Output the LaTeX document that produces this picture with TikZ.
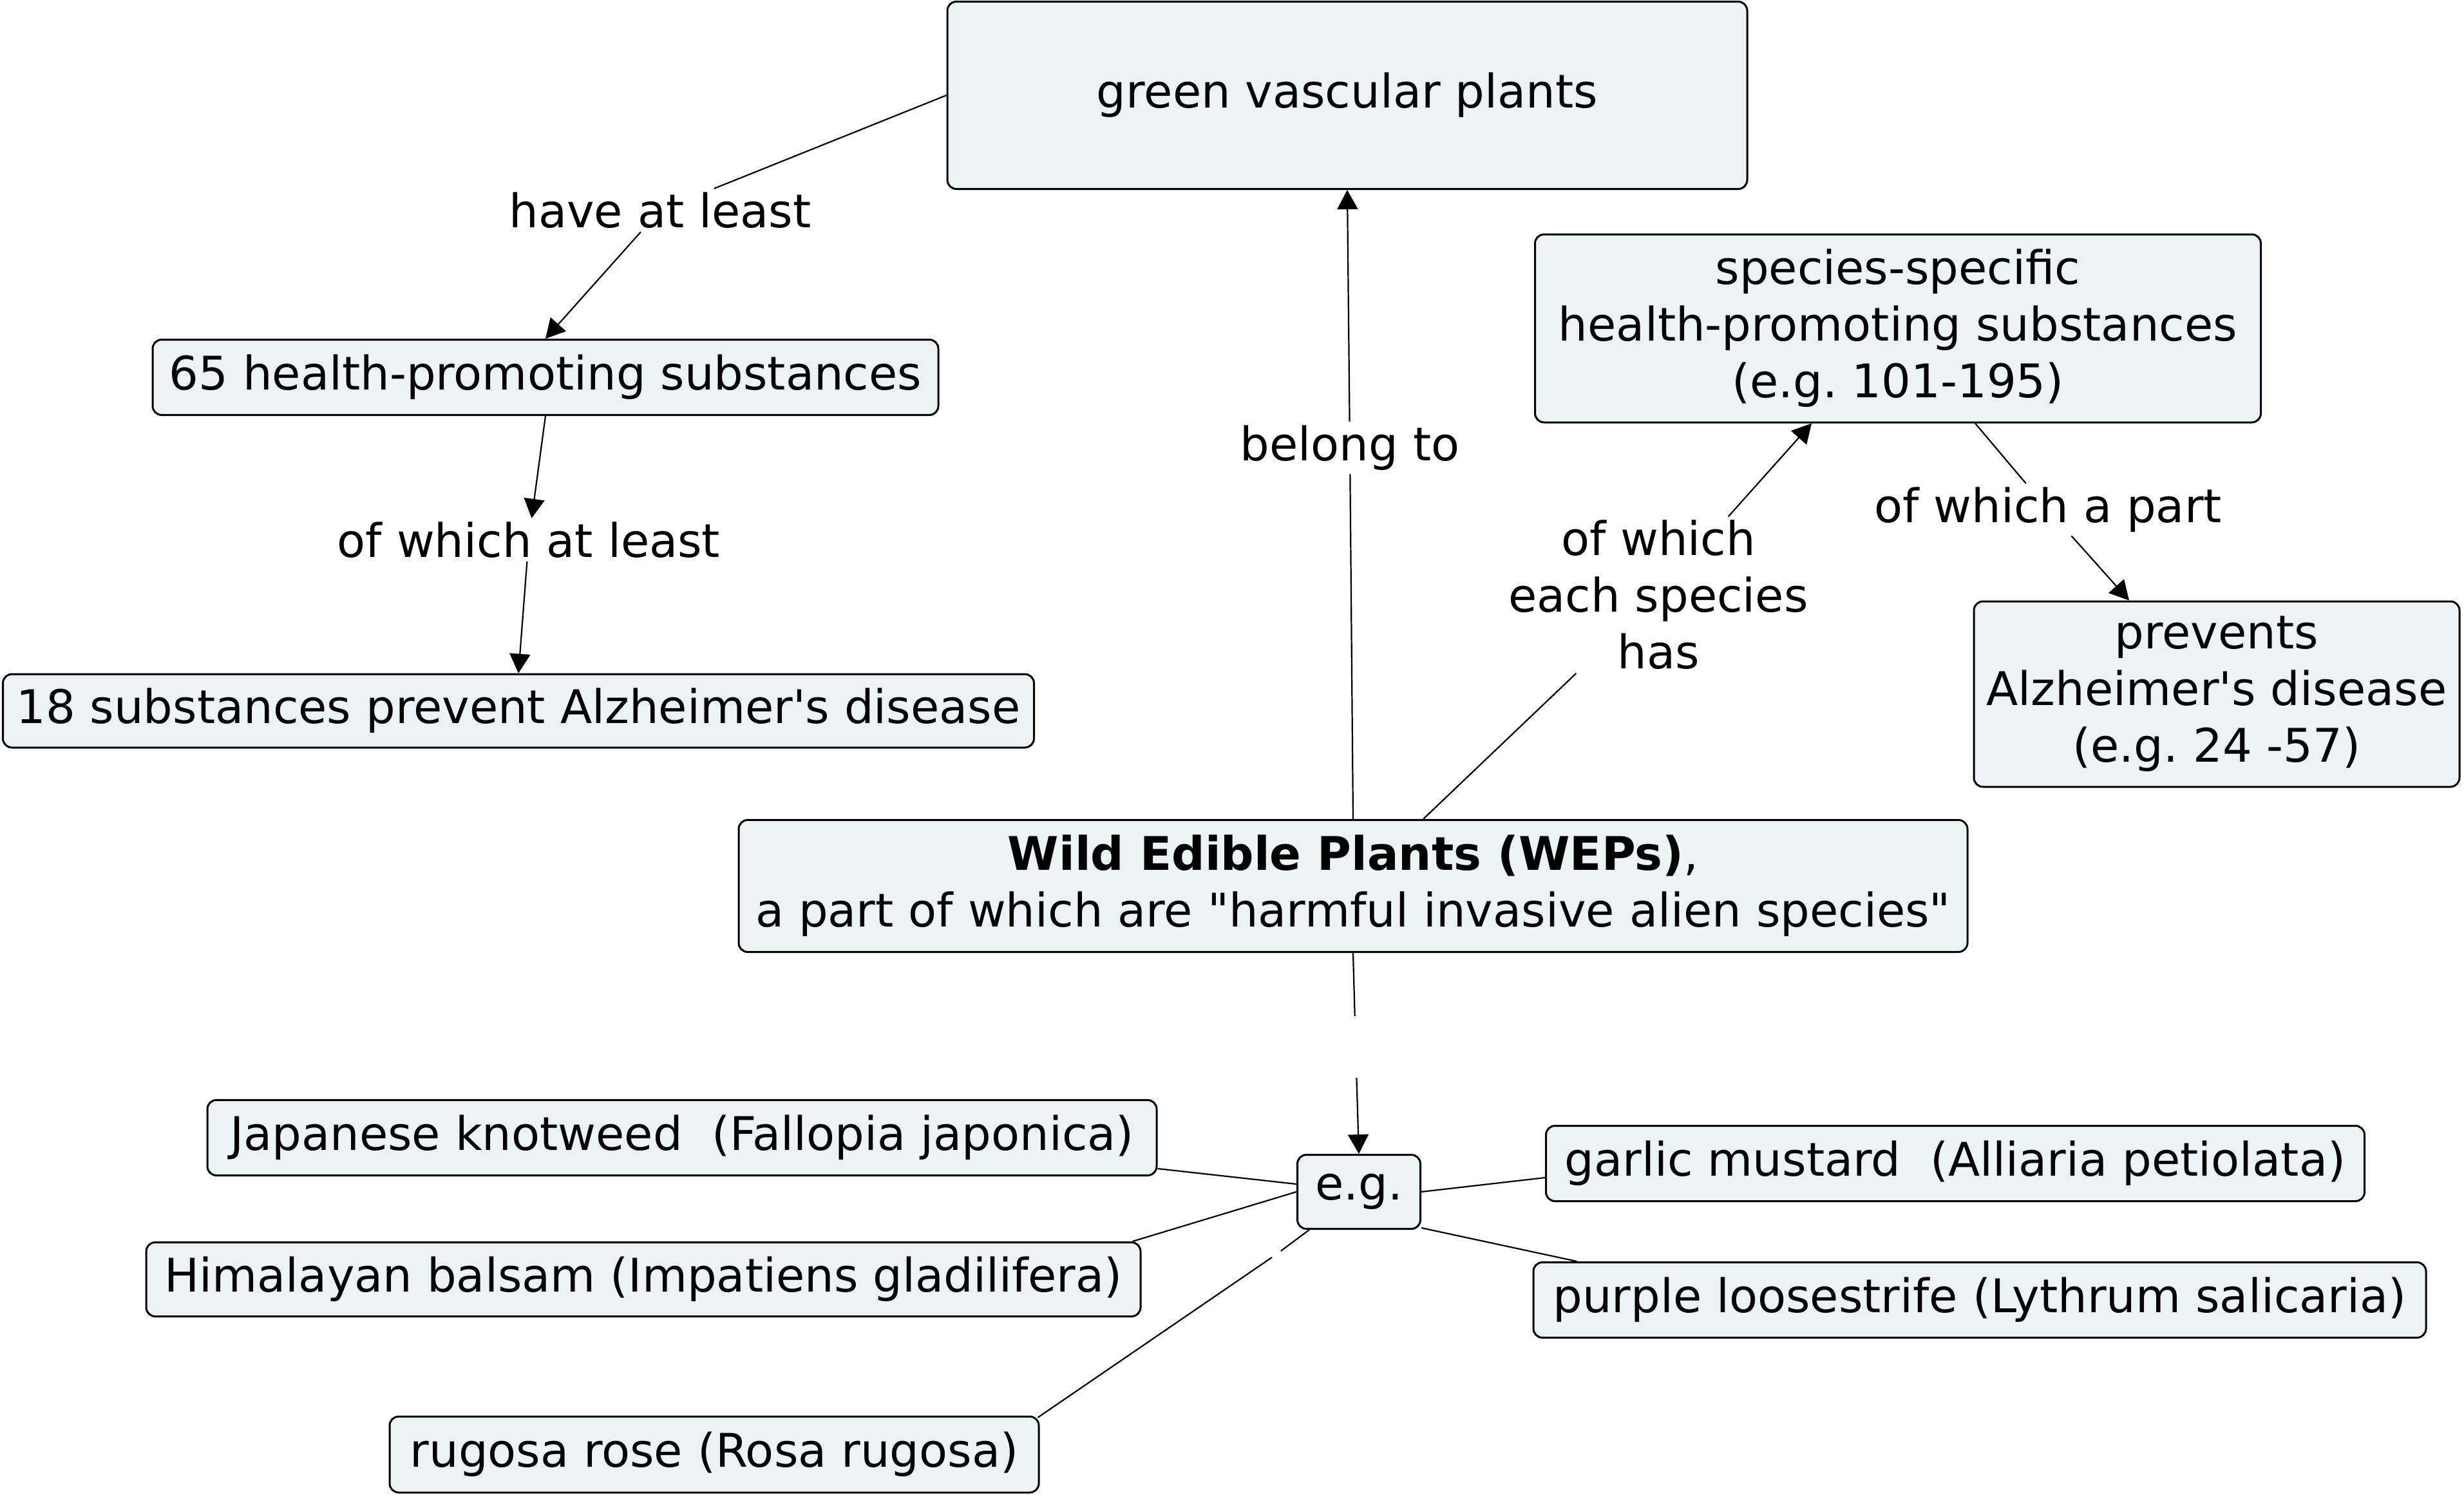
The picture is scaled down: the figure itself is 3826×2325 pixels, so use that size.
\documentclass[tikz,border=0pt]{standalone}
\usepackage{fontspec}
\setmainfont{DejaVu Sans}[Ligatures=TeXOff]
\usetikzlibrary{arrows.meta,calc}
\definecolor{boxfill}{RGB}{235,243,245}
\frenchspacing
\tikzset{
  concept/.style={draw=black, line width=0.75pt, fill=boxfill, rounded corners=3.5pt,
    align=center, inner sep=0pt, font=\fontsize{18}{22}\selectfont},
  linkph/.style={inner sep=1.25pt, align=center, font=\fontsize{18}{22}\selectfont},
  conn/.style={line width=0.55pt},
  arr/.style={conn, -{Triangle[length=7.5pt,width=8pt]}},
  gapnode/.style={inner sep=0pt, minimum width=3pt, minimum height=3pt},
}
\begin{document}
\begin{tikzpicture}[x=0.25pt,y=-0.25pt]
\fill[white] (0,0) rectangle (3826,2325);
\useasboundingbox (0,0) rectangle (3826,2325);

% concepts
\node[concept, minimum width=310.5pt, minimum height=72.75pt] (gvp) at (2092,148) {green vascular plants};
\node[concept, minimum width=305pt, minimum height=29.25pt] (hp65) at (847,586) {65 health-promoting substances};
\node[concept, minimum width=400.25pt, minimum height=28.5pt] (s18) at (805,1104) {18 substances prevent Alzheimer's disease};
\node[concept, minimum width=281.75pt, minimum height=73pt] (ssp) at (2947,510) {species-specific\\health-promoting substances\\(e.g. 101-195)};
\node[concept, minimum width=188.5pt, minimum height=72pt] (prev) at (3442,1078) {prevents\\Alzheimer's disease\\(e.g. 24 -57)};
\node[concept, minimum width=477pt, minimum height=51.25pt] (weps) at (2101,1376) {\textbf{Wild Edible Plants (WEPs)},\\a part of which are "harmful invasive alien species"};
\node[concept, minimum width=47.75pt, minimum height=28.75pt] (eg) at (2110,1851) {e.g.};
\node[concept, minimum width=368.5pt, minimum height=29.25pt] (jk) at (1059,1767) {Japanese knotweed~ (Fallopia japonica)};
\node[concept, minimum width=386pt, minimum height=28.75pt] (hb) at (999,1987) {Himalayan balsam (Impatiens gladilifera)};
\node[concept, minimum width=252pt, minimum height=29.5pt] (rr) at (1109,2259) {rugosa rose (Rosa rugosa)};
\node[concept, minimum width=317.75pt, minimum height=29.25pt] (gm) at (3036,1807) {garlic mustard~ (Alliaria petiolata)};
\node[concept, minimum width=346.5pt, minimum height=29.25pt] (pl) at (3074,2019) {purple loosestrife (Lythrum salicaria)};

% linking phrases
\node[linkph] (lab1) at (1025,326.5) {have at least};
\node[linkph] (lab2) at (821,838.5) {of which at least};
\node[linkph] (lab3) at (2096,695.5) {belong to};
\node[linkph] (lab4) at (2575,924) {of which\\each species\\has};
\node[linkph] (lab5) at (3180,791.5) {of which a part};
\node[gapnode, minimum height=23.5pt] (gap1) at (2105,1626) {};
\node[gapnode] (gap2) at (1982,1948) {};

% connectors
\draw[conn] (gvp.west) -- (lab1);
\draw[arr] (lab1) -- (hp65.north);
\draw[arr] (hp65.south) -- (lab2);
\draw[arr] (lab2) -- (s18.north);
\draw[conn] (weps.north) -- (lab3);
\draw[arr] (lab3) -- (gvp.south);
\draw[conn] ($(weps.north)+(109,0)$) -- (lab4);
\draw[arr] (lab4) -- ($(ssp.south)+(-134,0)$);
\draw[conn] ($(ssp.south)+(120,0)$) -- (lab5);
\draw[arr] (lab5) -- ($(prev.north)+(-136,0)$);
\draw[conn] (weps.south) -- (gap1);
\draw[arr] (gap1) -- (eg.north);
\draw[conn] ($(eg.west)+(0,-12)$) -- ($(jk.south east)+(0,-12)$);
\draw[conn] (eg.west) -- ($(hb.north east)+(-14,0)$);
\draw[conn] ($(eg.south west)+(20,0)$) -- (gap2);
\draw[conn] (gap2) -- ($(rr.north east)+(-3,3)$);
\draw[conn] (eg.east) -- ($(gm.west)+(0,22)$);
\draw[conn] ($(eg.south east)+(0,-3)$) -- ($(pl.north west)+(69,0)$);
\end{tikzpicture}
\end{document}
